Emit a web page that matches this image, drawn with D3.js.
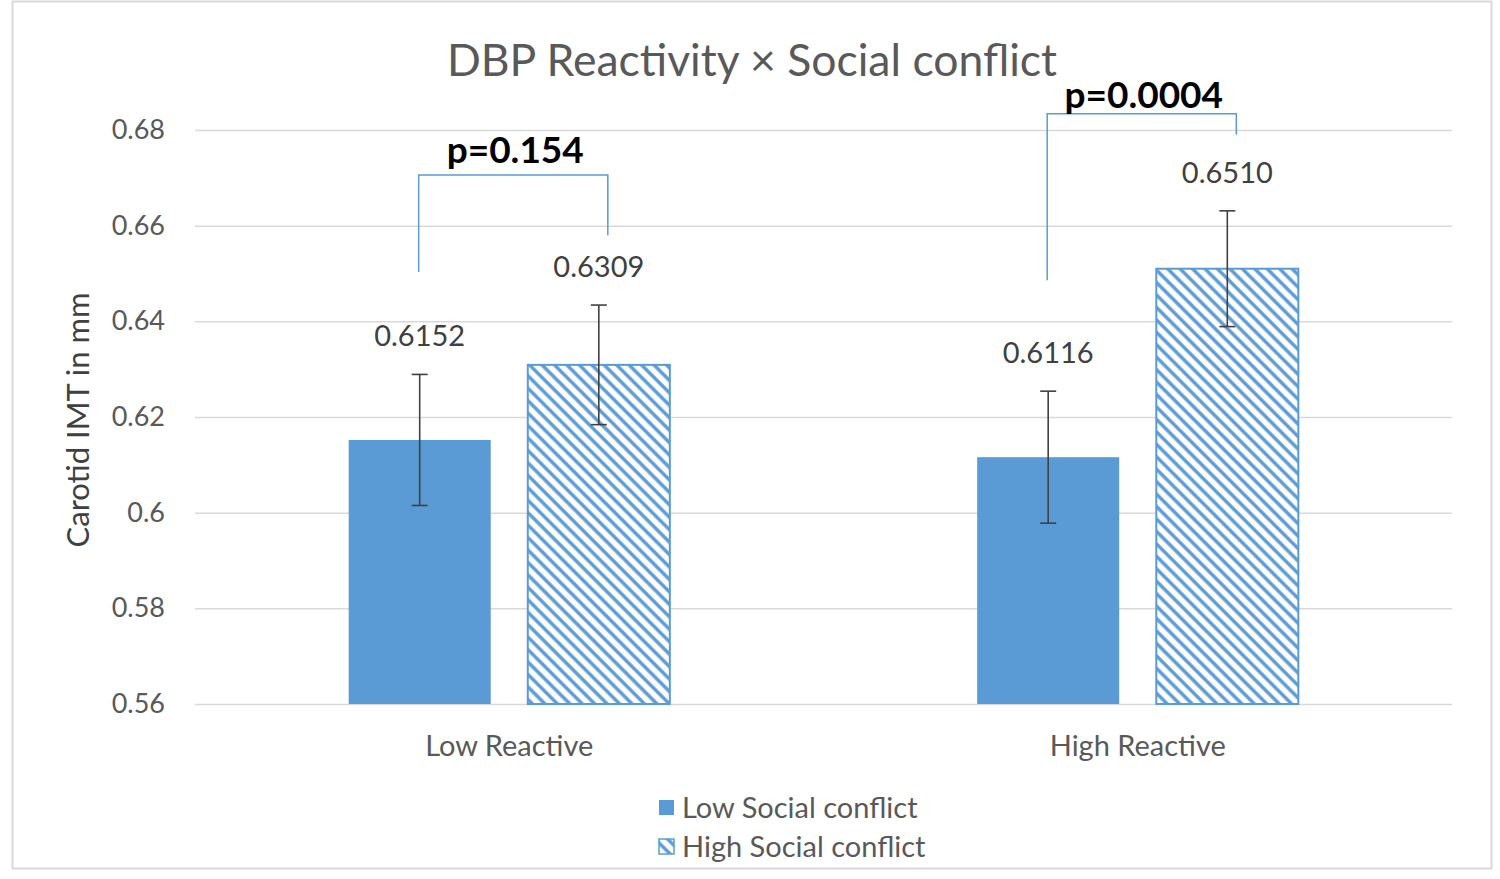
<!DOCTYPE html>
<html><head><meta charset="utf-8">
<script src="https://cdn.jsdelivr.net/npm/d3@7"></script>
<style>
html,body{margin:0;padding:0;background:#fff;}
svg{display:block;font-family:Lato, "Open Sans", sans-serif;}
</style></head>
<body><svg id="chart" width="1500" height="879"></svg>
<script>
// ---- data ----
const categories = ["Low Reactive", "High Reactive"];
const seriesNames = ["Low Social conflict", "High Social conflict"];
const lowConflict = [0.6152, 0.6116];
const highConflict = [0.6309, 0.6510];
const lowConflictErr = [0.0137, 0.0138];
const highConflictErr = [0.0125, 0.0121];
const valueLabels = [["0.6152", "0.6116"], ["0.6309", "0.6510"]];
const yTicks = [0.56, 0.58, 0.60, 0.62, 0.64, 0.66, 0.68];
const yTickLabels = ["0.56", "0.58", "0.6", "0.62", "0.64", "0.66", "0.68"];
const pLabels = ["p=0.154", "p=0.0004"];
const bracketTop = [0.6706, 0.6834];
const bracketLeftEnd = [0.6503, 0.6486];
const bracketRightEnd = [0.6580, 0.6790];
const pLabelBase = [0.6731, 0.6846];
const titleText = "DBP Reactivity × Social conflict";
const yTitle = "Carotid IMT in mm";

// ---- setup ----
const blue = "#5b9bd5";
const svg = d3.select("#chart");
const defs = svg.append("defs");
const pat = defs.append("pattern").attr("id", "hatch")
  .attr("patternUnits", "userSpaceOnUse")
  .attr("width", 8.8).attr("height", 8.8)
  .attr("patternTransform", "rotate(-45)");
pat.append("rect").attr("width", 8.8).attr("height", 8.8).attr("fill", "#fff");
pat.append("line").attr("x1", 2).attr("y1", -1).attr("x2", 2).attr("y2", 10)
  .attr("stroke", blue).attr("stroke-width", 3.4);

// outer border
svg.append("rect").attr("x", 12.5).attr("y", 1.5).attr("width", 1479).attr("height", 867)
  .attr("fill", "#fff").attr("stroke", "#d9d9d9").attr("stroke-width", 2);

const y = d3.scaleLinear().domain([0.56, 0.68]).range([704, 130]);
const x = d3.scaleBand().domain(categories).range([195, 1452]).padding(0);
const groupW = x.bandwidth() * 0.511;
const xs = d3.scaleBand().domain(seriesNames).range([0, groupW]).paddingInner(0.207).paddingOuter(0);

// gridlines + tick labels via axis
const yAxis = d3.axisLeft(y).tickValues(yTicks)
  .tickFormat((d, i) => yTickLabels[i]).tickSize(-(1452 - 195)).tickPadding(30);
const gy = svg.append("g").attr("transform", "translate(195,0)").call(yAxis);
gy.select(".domain").remove();
gy.selectAll(".tick line").attr("stroke", "#d9d9d9").attr("stroke-width", 1.5);
gy.selectAll(".tick text").attr("fill", "#595959").attr("font-size", 27)
  .attr("font-family", "Lato, sans-serif");

// x axis labels
const xAxis = d3.axisBottom(x).tickSize(0).tickPadding(31);
const gx = svg.append("g").attr("transform", "translate(0,704)").call(xAxis);
gx.select(".domain").remove();
gx.selectAll(".tick text").attr("fill", "#595959").attr("font-size", 29)
  .attr("font-family", "Lato, sans-serif");

// bars
const series = [
  {name: seriesNames[0], values: lowConflict, err: lowConflictErr, fill: blue},
  {name: seriesNames[1], values: highConflict, err: highConflictErr, fill: "url(#hatch)"}
];
series.forEach((s, si) => {
  const g = svg.append("g");
  categories.forEach((c, ci) => {
    const x0 = x(c) + (x.bandwidth() - groupW) / 2 + xs(s.name);
    const v = s.values[ci];
    g.append("rect").attr("x", x0).attr("y", y(v))
      .attr("width", xs.bandwidth()).attr("height", y(0.56) - y(v))
      .attr("fill", s.fill)
      .attr("stroke", si === 1 ? blue : "none").attr("stroke-width", 2);
    const cx = x0 + xs.bandwidth() / 2;
    const e = s.err[ci];
    const eg = g.append("g").attr("stroke", "#404040").attr("stroke-width", 1.6);
    eg.append("line").attr("x1", cx).attr("x2", cx).attr("y1", y(v + e)).attr("y2", y(v - e));
    eg.append("line").attr("x1", cx - 8).attr("x2", cx + 8).attr("y1", y(v + e)).attr("y2", y(v + e));
    eg.append("line").attr("x1", cx - 8).attr("x2", cx + 8).attr("y1", y(v - e)).attr("y2", y(v - e));
    g.append("text").attr("x", cx).attr("y", y(v + e) - 28)
      .attr("text-anchor", "middle").attr("font-size", 29).attr("fill", "#404040")
      .text(valueLabels[si][ci]);
  });
});

// brackets
categories.forEach((c, ci) => {
  const base = x(c) + (x.bandwidth() - groupW) / 2;
  const xl = base + xs(seriesNames[0]) + xs.bandwidth() / 2 - 1;
  const xr = base + xs(seriesNames[1]) + xs.bandwidth() / 2 + 9;
  svg.append("path")
    .attr("d", `M${xl},${y(bracketLeftEnd[ci])} L${xl},${y(bracketTop[ci])} L${xr},${y(bracketTop[ci])} L${xr},${y(bracketRightEnd[ci])}`)
    .attr("fill", "none").attr("stroke", "#5b9bd5").attr("stroke-width", 1.5);
  svg.append("text").attr("x", (xl + xr) / 2 + 2).attr("y", y(pLabelBase[ci]))
    .attr("text-anchor", "middle").attr("font-size", 37).attr("font-weight", "bold")
    .attr("fill", "#000").text(pLabels[ci]);
});

// title
svg.append("text").attr("x", 752).attr("y", 76).attr("text-anchor", "middle")
  .attr("font-size", 44.5).attr("fill", "#595959").text(titleText);

// y title
svg.append("text").attr("transform", "translate(89,420) rotate(-90)")
  .attr("text-anchor", "middle").attr("font-size", 31).attr("fill", "#404040").text(yTitle);

// legend
const leg = svg.append("g");
seriesNames.forEach((n, i) => {
  const cy = 808 + i * 39;
  leg.append("rect").attr("x", 659).attr("y", cy - 8).attr("width", 15).attr("height", 15)
    .attr("fill", i === 0 ? blue : "url(#hatch)")
    .attr("stroke", i === 1 ? blue : "none").attr("stroke-width", 1.5);
  leg.append("text").attr("x", 682).attr("y", cy + 10).attr("font-size", 29)
    .attr("fill", "#595959").text(n);
});
</script></body></html>
